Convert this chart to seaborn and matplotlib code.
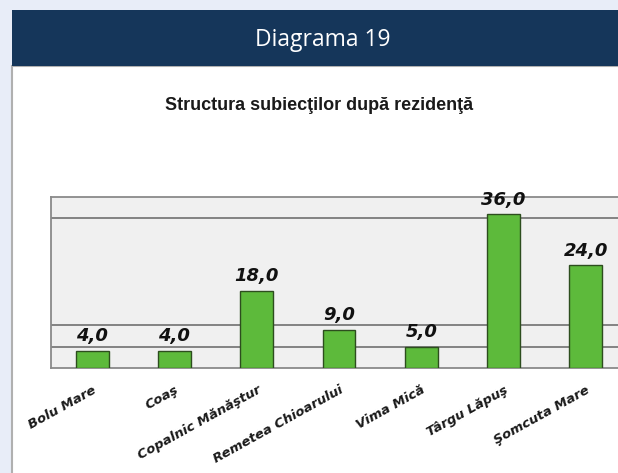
import matplotlib
matplotlib.use('Agg')
import matplotlib.pyplot as plt
from matplotlib.patches import Rectangle
import seaborn as sns
import pandas as pd

# Data.
localitati = ['Bolu Mare', 'Coaş', 'Copalnic Mănăştur', 'Remetea Chioarului',
              'Vima Mică', 'Târgu Lăpuş', 'Şomcuta Mare']
procente = [4.0, 4.0, 18.0, 9.0, 5.0, 36.0, 24.0]
linii_grila = [5, 10, 35]

df = pd.DataFrame({'localitate': localitati, 'procent': procente})

sns.set_style('white')
plt.rcParams['font.family'] = ['Liberation Sans', 'DejaVu Sans']

fig = plt.figure(figsize=(6.18, 4.73), dpi=100)
fig.patch.set_facecolor('#e8edf8')

# White panel and dark header band (panel runs off the right and bottom edge).
W, H = 618, 473
fig.patches.append(Rectangle((12 / W, -0.05), 1.0, 1.05 - 66 / H, transform=fig.transFigure,
                             facecolor='white', edgecolor='#b0b0b0', linewidth=1.5, zorder=-2))
fig.patches.append(Rectangle((12 / W, 1 - 66 / H), 1.0, 56 / H, transform=fig.transFigure,
                             facecolor='#15365a', edgecolor='none', zorder=-1))
fig.text(323 / W, 1 - 40 / H, 'Diagrama 19', color='white', fontsize=16.5,
         family=['Open Sans', 'DejaVu Sans'], ha='center', va='center')
fig.text(319 / W, 1 - 106 / H, 'Structura subiecţilor după rezidenţă', color='#1a1a1a',
         fontsize=13, fontweight='bold', ha='center', va='center')

ax = fig.add_axes([51 / W, 1 - 368 / H, 576 / W, 171 / H])
ax.set_facecolor('#f0f0f0')

sns.barplot(data=df, x='localitate', y='procent', color='#5dba3b', edgecolor='#2d4d1e',
            linewidth=1.0, width=0.4, saturation=1, ax=ax, zorder=3)

ax.set_ylim(0, 40)
ax.set_xlim(-0.5, len(localitati) - 0.5)
ax.set_yticks(linii_grila)
ax.set_yticklabels([])
ax.tick_params(axis='y', length=0)
ax.yaxis.grid(True, color='#7a7a7a', linewidth=1.3)
ax.set_axisbelow(True)

# Category boundaries as small tick marks.
ax.set_xticks([i - 0.5 for i in range(len(localitati) + 1)], minor=True)
ax.tick_params(axis='x', which='minor', length=3, color='#555555', direction='out')
ax.tick_params(axis='x', which='major', length=0, pad=11)
ax.set_xticklabels(localitati, rotation=29, ha='right', rotation_mode='anchor',
                   fontsize=9.5, fontweight='bold', fontstyle='italic',
                   family=['DejaVu Sans'], color='#1a1a1a')

ax.set_xlabel('')
ax.set_ylabel('')

for s in ['left', 'top', 'bottom']:
    ax.spines[s].set_color('#8a8a8a')
    ax.spines[s].set_linewidth(1.3)
ax.spines['right'].set_visible(False)

for i, v in enumerate(procente):
    ax.annotate(f'{v:.1f}'.replace('.', ','), (i, v), xytext=(0, 4), textcoords='offset points',
                ha='center', va='bottom', fontsize=13, fontweight='bold',
                fontstyle='italic', family=['DejaVu Sans'], color='#111111')

fig.savefig('out.png', dpi=100, facecolor=fig.get_facecolor())
